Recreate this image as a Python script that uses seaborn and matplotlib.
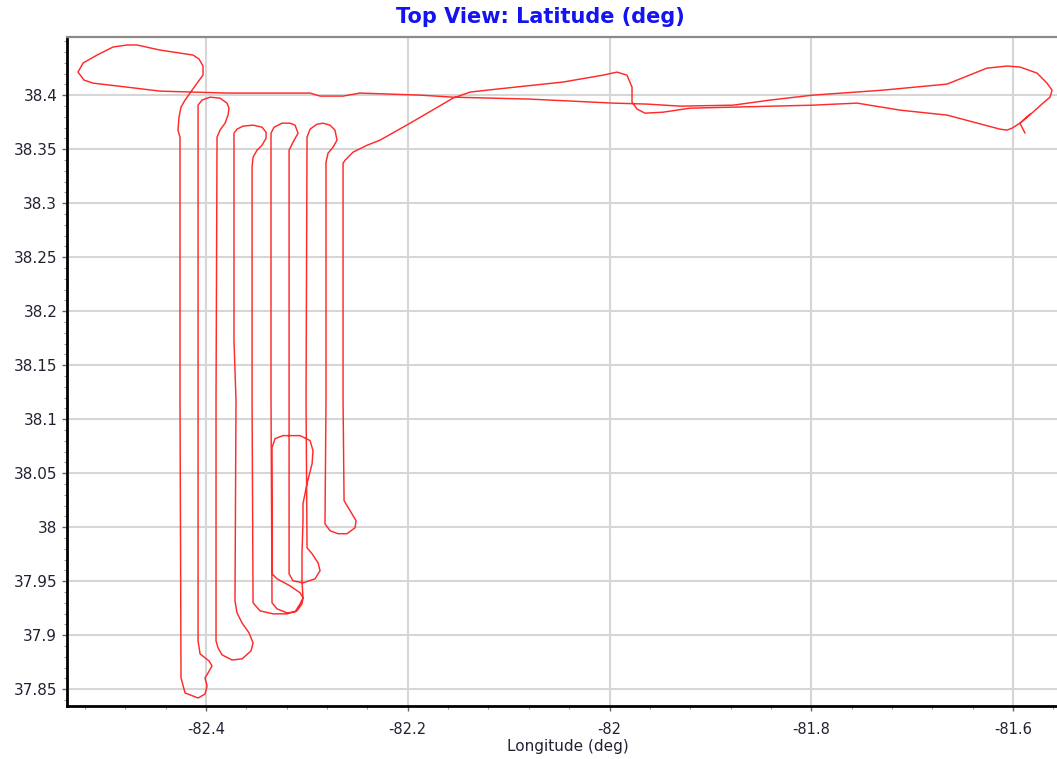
import numpy as np
import pandas as pd
import seaborn as sns
import matplotlib
matplotlib.use("Agg")
import matplotlib.pyplot as plt
from matplotlib.ticker import MultipleLocator, FuncFormatter

# Flight track (longitude / latitude, degrees)
longitude = [
    -81.5882, -81.5932, -81.5803, -81.5704, -81.5634, -81.5614, -81.5664, -81.5763, -81.5932, -81.6060,
    -81.6259, -81.6655, -81.7289, -81.7983, -81.8409, -81.8776, -81.9301, -81.9628, -81.9965, -82.0788,
    -82.1551, -82.1878, -82.2473, -82.2641, -82.2869, -82.2968, -82.3791, -82.4128, -82.4455, -82.4782,
    -82.5119, -82.5208, -82.5268, -82.5218, -82.5079, -82.4921, -82.4782, -82.4683, -82.4455, -82.4128,
    -82.4068, -82.4029, -82.4029, -82.4088, -82.4158, -82.4207, -82.4247, -82.4267, -82.4277, -82.4257,
    -82.4257, -82.4247, -82.4207, -82.4078, -82.4009, -82.3989, -82.4009, -82.3979, -82.3940, -82.3969,
    -82.4058, -82.4078, -82.4078, -82.4078, -82.4039, -82.3959, -82.3860, -82.3791, -82.3771, -82.3781,
    -82.3811, -82.3860, -82.3890, -82.3900, -82.3900, -82.3880, -82.3840, -82.3741, -82.3642, -82.3553,
    -82.3533, -82.3573, -82.3642, -82.3692, -82.3712, -82.3702, -82.3722, -82.3722, -82.3692, -82.3632,
    -82.3533, -82.3444, -82.3404, -82.3404, -82.3444, -82.3494, -82.3533, -82.3543, -82.3543, -82.3533,
    -82.3464, -82.3335, -82.3196, -82.3097, -82.3048, -82.3038, -82.3067, -82.3166, -82.3295, -82.3345,
    -82.3345, -82.3315, -82.3236, -82.3067, -82.2968, -82.2939, -82.2948, -82.2998, -82.3038, -82.3038,
    -82.3048, -82.3048, -82.3038, -82.3067, -82.3117, -82.3196, -82.3295, -82.3345, -82.3355, -82.3355,
    -82.3325, -82.3246, -82.3166, -82.3117, -82.3087, -82.3137, -82.3176, -82.3176, -82.3176, -82.3137,
    -82.3038, -82.2919, -82.2869, -82.2889, -82.2948, -82.2998, -82.3008, -82.2998, -82.2968, -82.2899,
    -82.2839, -82.2770, -82.2721, -82.2701, -82.2740, -82.2790, -82.2810, -82.2810, -82.2820, -82.2770,
    -82.2691, -82.2602, -82.2522, -82.2512, -82.2572, -82.2631, -82.2641, -82.2641, -82.2621, -82.2542,
    -82.2403, -82.2275, -82.1977, -82.1551, -82.1383, -82.1115, -82.0461, -82.0064, -81.9926, -81.9827,
    -81.9777, -81.9777, -81.9727, -81.9648, -81.9470, -81.9202, -81.8776, -81.7983, -81.7547, -81.7121,
    -81.6655, -81.6130, -81.6060, -81.6011, -81.5932, -81.5832,
]
latitude = [
    38.3648, 38.3740, 38.3842, 38.3926, 38.3981, 38.4046, 38.4111, 38.4204, 38.4260, 38.4269,
    38.4250, 38.4102, 38.4046, 38.4000, 38.3954, 38.3907, 38.3898, 38.3917, 38.3926, 38.3963,
    38.3981, 38.4000, 38.4019, 38.3991, 38.3991, 38.4019, 38.4019, 38.4028, 38.4037, 38.4074,
    38.4111, 38.4139, 38.4213, 38.4297, 38.4371, 38.4445, 38.4464, 38.4464, 38.4417, 38.4371,
    38.4334, 38.4269, 38.4185, 38.4111, 38.4019, 38.3954, 38.3889, 38.3796, 38.3676, 38.3611,
    38.1173, 37.8605, 37.8466, 37.8419, 37.8456, 37.8530, 37.8605, 37.8651, 37.8716, 37.8762,
    37.8827, 37.8948, 38.1173, 38.3907, 38.3954, 38.3981, 38.3972, 38.3926, 38.3879, 38.3815,
    38.3740, 38.3676, 38.3611, 38.1173, 37.8948, 37.8883, 37.8818, 37.8771, 37.8781, 37.8855,
    37.8929, 37.9022, 37.9114, 37.9207, 37.9318, 38.1173, 38.1729, 38.3648, 38.3685, 38.3713,
    38.3722, 38.3703, 38.3657, 38.3601, 38.3536, 38.3490, 38.3425, 38.3333, 38.1173, 37.9300,
    37.9226, 37.9198, 37.9198, 37.9226, 37.9291, 37.9346, 37.9393, 37.9457, 37.9522, 37.9569,
    38.0737, 38.0820, 38.0848, 38.0848, 38.0802, 38.0709, 38.0588, 38.0403, 38.0218, 38.0060,
    37.9754, 37.9504, 37.9346, 37.9291, 37.9216, 37.9207, 37.9244, 37.9300, 38.1173, 38.3648,
    38.3703, 38.3740, 38.3740, 38.3722, 38.3648, 38.3564, 38.3490, 38.1173, 37.9569, 37.9504,
    37.9485, 37.9522, 37.9597, 37.9671, 37.9754, 37.9810, 38.1173, 38.3611, 38.3685, 38.3731,
    38.3740, 38.3722, 38.3676, 38.3583, 38.3518, 38.3462, 38.3379, 38.1173, 38.0032, 37.9967,
    37.9940, 37.9940, 37.9995, 38.0060, 38.0153, 38.0246, 38.1173, 38.3370, 38.3397, 38.3472,
    38.3536, 38.3583, 38.3740, 38.3972, 38.4028, 38.4056, 38.4121, 38.4185, 38.4213, 38.4185,
    38.4074, 38.3935, 38.3870, 38.3833, 38.3842, 38.3879, 38.3889, 38.3907, 38.3926, 38.3861,
    38.3815, 38.3685, 38.3676, 38.3694, 38.3740, 38.3824,
]

x_ticks = [-82.4, -82.2, -82.0, -81.8, -81.6]
y_ticks = [37.85, 37.9, 37.95, 38.0, 38.05, 38.1, 38.15, 38.2, 38.25, 38.3, 38.35, 38.4]

title_text = "Top View: Latitude (deg)"
x_label = "Longitude (deg)"

df = pd.DataFrame({"lon": longitude, "lat": latitude, "order": np.arange(len(longitude))})

sns.set_style("white")
plt.rcParams["font.family"] = ["DejaVu Sans"]
plt.rcParams["axes.unicode_minus"] = False

W, H = 1057, 759
fig = plt.figure(figsize=(W / 100, H / 100), dpi=100)
ax = fig.add_axes([67 / W, 1 - 706 / H, (W - 67) / W, (706 - 37) / H])

sns.lineplot(data=df, x="lon", y="lat", sort=False, estimator=None,
             color="#ff2a2a", linewidth=1.05, ax=ax, zorder=3)

ax.set_xlim(-82.5377, -81.5565)
ax.set_ylim(37.8345, 38.4538)

ax.xaxis.set_major_locator(MultipleLocator(0.2))
ax.xaxis.set_minor_locator(MultipleLocator(0.04))
ax.yaxis.set_major_locator(MultipleLocator(0.05))
ax.yaxis.set_minor_locator(MultipleLocator(0.01))
fmt = FuncFormatter(lambda v, p: f"{v:.2f}".rstrip("0").rstrip("."))
ax.xaxis.set_major_formatter(fmt)
ax.yaxis.set_major_formatter(fmt)
ax.set_xticks(x_ticks)
ax.set_yticks(y_ticks)

ax.grid(True, which="major", color="#d6d6d6", linewidth=1.5, zorder=0)
ax.set_axisbelow(True)

for s in ["left", "bottom"]:
    ax.spines[s].set_color("black")
    ax.spines[s].set_linewidth(2.0)
ax.spines["top"].set_color("#8a8a8a")
ax.spines["top"].set_linewidth(1.6)
ax.spines["right"].set_visible(False)

ax.tick_params(axis="both", which="major", direction="out", length=3.5, width=1.0,
               color="#666666", labelcolor="#222233")
ax.tick_params(axis="both", which="minor", direction="out", length=2.5, width=0.8,
               color="#999999")
ax.tick_params(axis="x", which="major", labelsize=10.5, pad=8)
ax.tick_params(axis="y", which="major", labelsize=11, pad=3.5)
ax.tick_params(left=True, bottom=True, which="both")

ax.set_xlabel(x_label, fontsize=11, color="#222233", labelpad=3)
ax.xaxis.set_label_coords((568 - 67) / (W - 67), -0.05)
ax.set_ylabel("")

fig.text(540 / W, 1 - 17 / H, title_text, ha="center", va="center",
         fontsize=15, fontweight="bold", color="#1414f0")

fig.savefig("out.png", dpi=100, facecolor="white")
